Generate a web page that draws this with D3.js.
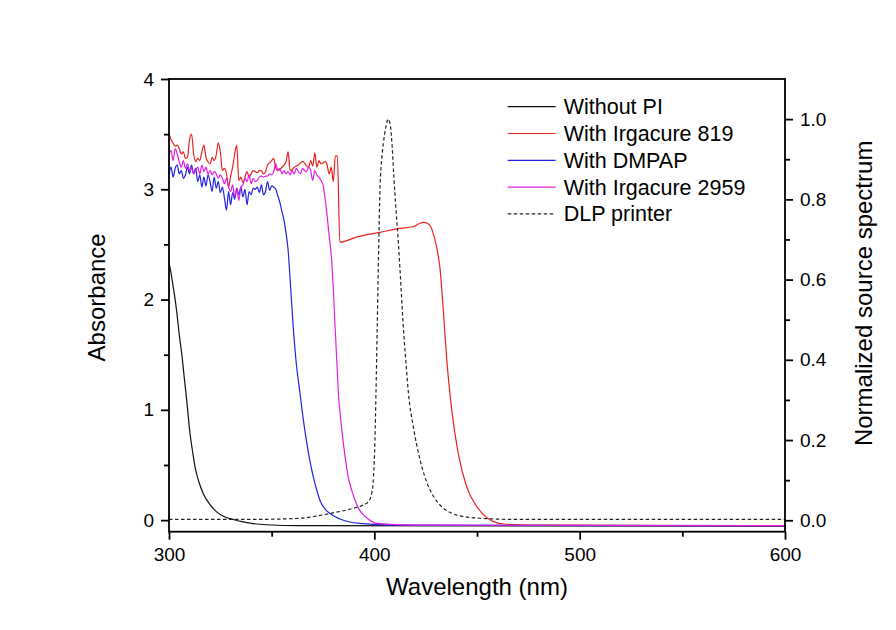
<!DOCTYPE html>
<html>
<head>
<meta charset="utf-8">
<script src="https://cdn.jsdelivr.net/npm/d3@7"></script>
<style>
  body { margin: 0; background: #fff; }
  text { font-family: "Liberation Sans", Arial, sans-serif; fill: #000; }
</style>
</head>
<body>
<div id="chart"></div>
<script>
// Noisy plateau parts, one value per nm starting at 300 nm
const irg819Plateau = [3.51, 3.45, 3.42, 3.39, 3.40, 3.37, 3.32, 3.34, 3.28, 3.29,
  3.45, 3.50, 3.32, 3.25, 3.28, 3.26, 3.34, 3.40, 3.29, 3.25,
  3.23, 3.29, 3.26, 3.31, 3.42, 3.34, 3.17, 3.19, 3.14, 3.02,
  3.12, 3.20, 3.32, 3.40, 3.08, 3.11, 3.06, 3.11, 3.16, 3.11,
  3.14, 3.17, 3.16, 3.15, 3.17, 3.17, 3.14, 3.16, 3.22, 3.24,
  3.26, 3.28, 3.19, 3.17, 3.18, 3.20, 3.22, 3.25, 3.34, 3.17,
  3.18, 3.20, 3.21, 3.22, 3.24, 3.25, 3.24, 3.21, 3.20, 3.26,
  3.21, 3.33, 3.20, 3.26, 3.23, 3.24, 3.25, 3.22, 3.14, 3.20,
  3.07, 3.30, 3.30];
const dmpapPlateau = [3.13, 3.20, 3.11, 3.19, 3.22, 3.14, 3.17, 3.10, 3.13, 3.20,
  3.14, 3.22, 3.14, 3.19, 3.07, 3.13, 3.02, 3.11, 3.03, 3.13,
  3.07, 2.98, 3.11, 3.01, 3.07, 2.97, 3.02, 2.92, 2.81, 2.98,
  2.86, 2.97, 2.91, 3.01, 2.95, 3.02, 2.93, 3.00, 2.86, 2.98,
  2.95, 3.01, 3.00, 3.02, 2.97, 3.04, 2.95, 2.98, 3.07, 2.99,
  3.03, 3.02, 3.00];
const irg2959Plateau = [3.31, 3.35, 3.26, 3.37, 3.32, 3.25, 3.20, 3.26, 3.19, 3.23,
  3.17, 3.19, 3.14, 3.17, 3.20, 3.14, 3.22, 3.16, 3.20, 3.14,
  3.17, 3.13, 3.16, 3.14, 3.10, 3.13, 3.10, 3.05, 3.10, 3.02,
  2.98, 3.04, 2.93, 3.01, 2.90, 3.02, 3.04, 3.10, 3.07, 3.13,
  3.05, 3.10, 3.07, 3.08, 3.11, 3.12, 3.11, 3.12, 3.12, 3.14,
  3.13, 3.16, 3.23, 3.17, 3.19, 3.14, 3.17, 3.14, 3.16, 3.13,
  3.17, 3.14, 3.19, 3.16, 3.14, 3.19, 3.17, 3.16, 3.20, 3.17,
  3.08, 3.17, 3.13, 3.11, 3.08, 3.04];

// Smooth parts as [wavelength, value]
const irg819Tail = [[383.2, 2.52], [392, 2.57], [402.8, 2.61], [412.5, 2.645], [419, 2.66],
  [422, 2.69], [424, 2.70], [426, 2.69], [427.5, 2.66], [429, 2.58], [430.5, 2.46],
  [432, 2.28], [433.6, 1.90], [435.3, 1.45], [437.7, 1.0], [440.9, 0.60], [445, 0.30],
  [450, 0.12], [455, 0.02], [463, -0.035], [475, -0.045], [600, -0.05]];
const dmpapTail = [[353, 2.94], [354, 2.88], [355, 2.80], [356, 2.72], [357, 2.60], [358, 2.45],
  [359, 2.18], [360.5, 1.75], [362, 1.42], [363.8, 1.15], [365.5, 0.90], [367.1, 0.70],
  [368.7, 0.53], [370.3, 0.39], [372, 0.27], [373.5, 0.18], [376, 0.10], [378.4, 0.06],
  [383.3, 0.01], [393, -0.03], [410, -0.045], [600, -0.05]];
const irg2959Tail = [[376, 2.92], [377, 2.76], [378, 2.58], [379.2, 2.36], [380, 2.10],
  [380.9, 1.75], [381.7, 1.45], [382.5, 1.15], [383.7, 0.90], [384.9, 0.70], [386.1, 0.53],
  [387.3, 0.39], [389, 0.27], [390.6, 0.18], [392.5, 0.10], [394.6, 0.05], [397, 0.01],
  [401.2, -0.03], [420, -0.045], [600, -0.05]];
const withoutPI = [[300, 2.33], [301, 2.24], [302, 2.12], [303, 2.00], [303.7, 1.90], [305, 1.68],
  [306.2, 1.51], [307.5, 1.28], [308.6, 1.09], [310.2, 0.79], [311.5, 0.62], [312.7, 0.48],
  [314.5, 0.35], [316.7, 0.24], [320, 0.14], [323.2, 0.075], [327, 0.03], [331.3, 0.006],
  [335, -0.012], [339.5, -0.028], [347.6, -0.042], [363.8, -0.05], [600, -0.055]];
// DLP printer source spectrum (right axis)
const dlpSpectrum = [[300, 0.002], [340, 0.002], [363.8, 0.005], [378.4, 0.017], [389.8, 0.030],
  [394.6, 0.038], [397.1, 0.046], [398.7, 0.067], [399.6, 0.109], [400.3, 0.20], [400.8, 0.317],
  [401.4, 0.48], [402, 0.649], [402.8, 0.832], [403.6, 0.90], [404.4, 0.94], [405.6, 0.98],
  [406.8, 1.0], [407.9, 0.98], [408.7, 0.93], [409.5, 0.857], [410.6, 0.77], [411.6, 0.70],
  [413, 0.58], [414.1, 0.483], [415.3, 0.40], [416.6, 0.317], [419, 0.233], [422.3, 0.150],
  [424.5, 0.11], [427.1, 0.076], [432, 0.038], [436, 0.022], [440.1, 0.013], [451.5, 0.005],
  [470, 0.002], [600, 0.002]];

const xTicks = [300, 400, 500, 600];
const xMinor = [350, 450, 550];
const yLeftTicks = [0, 1, 2, 3, 4];
const yLeftMinor = [0.5, 1.5, 2.5, 3.5];
const yRightTicks = [0, 0.2, 0.4, 0.6, 0.8, 1.0];
const yRightMinor = [0.1, 0.3, 0.5, 0.7, 0.9];

const legendNames = ["Without PI", "With Irgacure 819", "With DMPAP", "With Irgacure 2959", "DLP printer"];
const colors = ["#111111", "#e8231f", "#2323e6", "#e020e0", "#222222"];

const plateau = (vals) => vals.map((v, i) => [300 + i, v]);
const series = [
  { pts: withoutPI, axis: "left" },
  { pts: plateau(irg819Plateau).concat(irg819Tail), axis: "left" },
  { pts: plateau(dmpapPlateau).concat(dmpapTail), axis: "left" },
  { pts: plateau(irg2959Plateau).concat(irg2959Tail), axis: "left" },
  { pts: dlpSpectrum, axis: "right", dashed: true }
];

const W = 896, H = 630;
const margin = { top: 79, right: 111, bottom: 98.3, left: 169 };
const width = W - margin.left - margin.right;
const height = H - margin.top - margin.bottom;

const svg = d3.select("#chart").append("svg")
  .attr("width", W).attr("height", H);
svg.append("rect").attr("width", W).attr("height", H).attr("fill", "#fff");
const g = svg.append("g").attr("transform", `translate(${margin.left},${margin.top})`);

const x = d3.scaleLinear().domain([300, 600]).range([0, width]);
const yL = d3.scaleLinear().domain([-0.105, 4]).range([height, 0]);
const yR = d3.scaleLinear().domain([-0.0285, 1.1]).range([height, 0]);

// curves
series.forEach((s, i) => {
  const y = s.axis === "left" ? yL : yR;
  const line = d3.line().x(d => x(d[0])).y(d => y(d[1])).curve(d3.curveMonotoneX);
  g.append("path")
    .datum(s.pts)
    .attr("d", line)
    .attr("fill", "none")
    .attr("stroke", colors[i])
    .attr("stroke-width", 1.2)
    .attr("stroke-dasharray", s.dashed ? "3.5,2.5" : null);
});

// axes
const fontSize = 19;
function styleAxis(sel) {
  sel.select(".domain").remove();
  sel.selectAll(".tick line").attr("stroke", "#000").attr("stroke-width", 1.8);
  sel.selectAll(".tick text").attr("font-size", fontSize)
    .attr("font-family", "Liberation Sans, Arial, sans-serif").attr("fill", "#000");
}

g.append("g").attr("transform", `translate(0,${height})`)
  .call(d3.axisBottom(x).tickValues(xTicks).tickSize(8).tickPadding(8).tickFormat(d3.format("d")))
  .call(styleAxis);
g.append("g").attr("transform", `translate(0,${height})`)
  .call(d3.axisBottom(x).tickValues(xMinor).tickSize(5).tickFormat(""))
  .call(styleAxis);

g.append("g")
  .call(d3.axisLeft(yL).tickValues(yLeftTicks).tickSize(8).tickPadding(7).tickFormat(d3.format("d")))
  .call(styleAxis);
g.append("g")
  .call(d3.axisLeft(yL).tickValues(yLeftMinor).tickSize(5).tickFormat(""))
  .call(styleAxis);

g.append("g").attr("transform", `translate(${width},0)`)
  .call(d3.axisRight(yR).tickValues(yRightTicks).tickSize(8).tickPadding(7).tickFormat(d3.format(".1f")))
  .call(styleAxis);
g.append("g").attr("transform", `translate(${width},0)`)
  .call(d3.axisRight(yR).tickValues(yRightMinor).tickSize(5).tickFormat(""))
  .call(styleAxis);

// frame
g.append("rect")
  .attr("width", width).attr("height", height)
  .attr("fill", "none").attr("stroke", "#000").attr("stroke-width", 1.8);

// axis titles
g.append("text")
  .attr("x", width / 2).attr("y", height + 63)
  .attr("text-anchor", "middle").attr("font-size", 24)
  .text("Wavelength (nm)");
g.append("text")
  .attr("transform", `translate(${-64},${height / 2 - 8}) rotate(-90)`)
  .attr("text-anchor", "middle").attr("font-size", 24)
  .text("Absorbance");
g.append("text")
  .attr("transform", `translate(${width + 87},${height / 2 - 12}) rotate(-90)`)
  .attr("text-anchor", "middle").attr("font-size", 24)
  .text("Normalized source spectrum");

// legend
const legend = g.append("g").attr("transform", `translate(${507.7 - margin.left},${106.7 - margin.top})`);
legendNames.forEach((name, i) => {
  const row = legend.append("g").attr("transform", `translate(0,${i * 26.8})`);
  row.append("line")
    .attr("x1", 0).attr("x2", 48).attr("y1", 0).attr("y2", 0)
    .attr("stroke", colors[i]).attr("stroke-width", 1.2)
    .attr("stroke-dasharray", i === 4 ? "3.5,2.5" : null);
  row.append("text")
    .attr("x", 56).attr("y", 7.5)
    .attr("font-size", 21.5)
    .text(name);
});
</script>
</body>
</html>
